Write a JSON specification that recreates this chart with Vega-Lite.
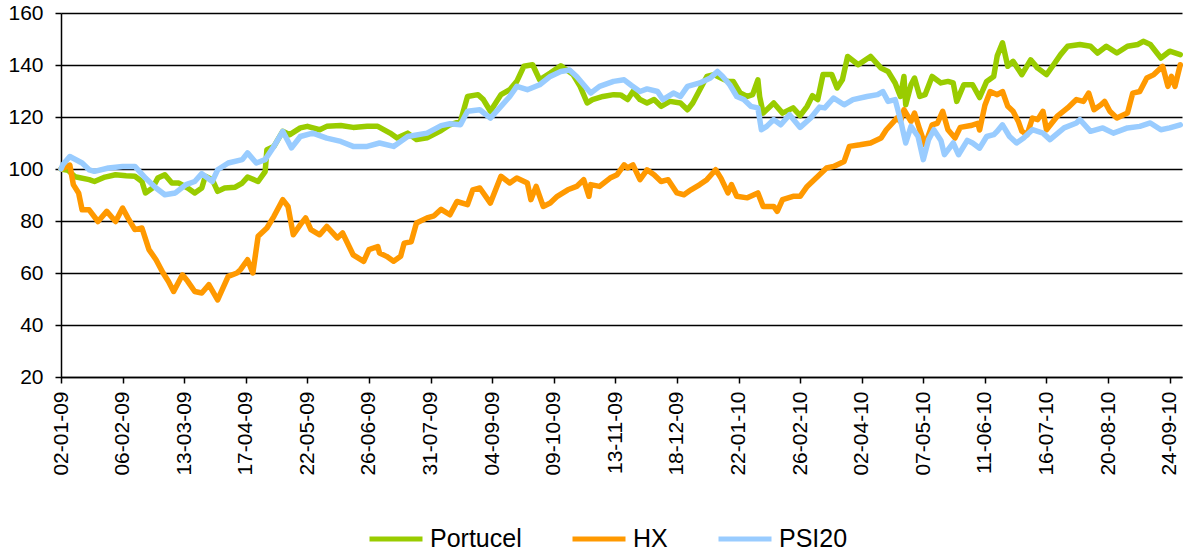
{
"$schema": "https://vega.github.io/schema/vega-lite/v6.json",
"width": 1121, "height": 364,
"autosize": {"type": "none"},
"padding": {"left": 61, "top": 13, "right": 1, "bottom": 178},
"background": "white",
"config": {"view": {"stroke": null}, "font": "Liberation Sans"},
"data": {"values": [
{"date":"2009-01-02","series":"Portucel","value":100},
{"date":"2009-01-06","series":"Portucel","value":99.5},
{"date":"2009-01-10","series":"Portucel","value":97},
{"date":"2009-01-18","series":"Portucel","value":95.9},
{"date":"2009-01-21","series":"Portucel","value":95.2},
{"date":"2009-01-27","series":"Portucel","value":96.9},
{"date":"2009-02-02","series":"Portucel","value":97.8},
{"date":"2009-02-08","series":"Portucel","value":97.4},
{"date":"2009-02-13","series":"Portucel","value":97.2},
{"date":"2009-02-17","series":"Portucel","value":95.2},
{"date":"2009-02-19","series":"Portucel","value":90.8},
{"date":"2009-02-23","series":"Portucel","value":92.7},
{"date":"2009-02-26","series":"Portucel","value":96.5},
{"date":"2009-03-02","series":"Portucel","value":97.8},
{"date":"2009-03-06","series":"Portucel","value":94.6},
{"date":"2009-03-10","series":"Portucel","value":94.6},
{"date":"2009-03-15","series":"Portucel","value":92.7},
{"date":"2009-03-19","series":"Portucel","value":90.8},
{"date":"2009-03-23","series":"Portucel","value":92.7},
{"date":"2009-03-25","series":"Portucel","value":97.2},
{"date":"2009-03-29","series":"Portucel","value":95.9},
{"date":"2009-04-01","series":"Portucel","value":91.4},
{"date":"2009-04-05","series":"Portucel","value":92.7},
{"date":"2009-04-11","series":"Portucel","value":93},
{"date":"2009-04-15","series":"Portucel","value":94.6},
{"date":"2009-04-18","series":"Portucel","value":96.9},
{"date":"2009-04-24","series":"Portucel","value":95.2},
{"date":"2009-04-28","series":"Portucel","value":99},
{"date":"2009-04-29","series":"Portucel","value":107.4},
{"date":"2009-05-03","series":"Portucel","value":108.7},
{"date":"2009-05-08","series":"Portucel","value":114.5},
{"date":"2009-05-12","series":"Portucel","value":113.2},
{"date":"2009-05-18","series":"Portucel","value":115.8},
{"date":"2009-05-22","series":"Portucel","value":116.4},
{"date":"2009-05-29","series":"Portucel","value":115.1},
{"date":"2009-06-02","series":"Portucel","value":116.4},
{"date":"2009-06-10","series":"Portucel","value":116.7},
{"date":"2009-06-17","series":"Portucel","value":116},
{"date":"2009-06-25","series":"Portucel","value":116.4},
{"date":"2009-07-01","series":"Portucel","value":116.4},
{"date":"2009-07-08","series":"Portucel","value":113.8},
{"date":"2009-07-12","series":"Portucel","value":111.9},
{"date":"2009-07-18","series":"Portucel","value":113.8},
{"date":"2009-07-23","series":"Portucel","value":111.3},
{"date":"2009-07-29","series":"Portucel","value":112},
{"date":"2009-08-06","series":"Portucel","value":114.8},
{"date":"2009-08-11","series":"Portucel","value":117},
{"date":"2009-08-17","series":"Portucel","value":118.3},
{"date":"2009-08-21","series":"Portucel","value":127.9},
{"date":"2009-08-27","series":"Portucel","value":128.6},
{"date":"2009-08-30","series":"Portucel","value":126.7},
{"date":"2009-09-03","series":"Portucel","value":122.2},
{"date":"2009-09-09","series":"Portucel","value":128.6},
{"date":"2009-09-14","series":"Portucel","value":130.5},
{"date":"2009-09-18","series":"Portucel","value":133.7},
{"date":"2009-09-22","series":"Portucel","value":139.5},
{"date":"2009-09-27","series":"Portucel","value":140.1},
{"date":"2009-10-01","series":"Portucel","value":134.3},
{"date":"2009-10-07","series":"Portucel","value":136.9},
{"date":"2009-10-13","series":"Portucel","value":139.7},
{"date":"2009-10-20","series":"Portucel","value":136.3},
{"date":"2009-10-24","series":"Portucel","value":131.8},
{"date":"2009-10-28","series":"Portucel","value":125.4},
{"date":"2009-10-31","series":"Portucel","value":126.7},
{"date":"2009-11-06","series":"Portucel","value":127.9},
{"date":"2009-11-12","series":"Portucel","value":128.6},
{"date":"2009-11-16","series":"Portucel","value":128.5},
{"date":"2009-11-20","series":"Portucel","value":126.7},
{"date":"2009-11-23","series":"Portucel","value":129.8},
{"date":"2009-11-27","series":"Portucel","value":126.7},
{"date":"2009-12-01","series":"Portucel","value":125.4},
{"date":"2009-12-05","series":"Portucel","value":126.7},
{"date":"2009-12-09","series":"Portucel","value":124.1},
{"date":"2009-12-14","series":"Portucel","value":126},
{"date":"2009-12-20","series":"Portucel","value":125.4},
{"date":"2009-12-24","series":"Portucel","value":122.8},
{"date":"2009-12-27","series":"Portucel","value":125.4},
{"date":"2009-12-31","series":"Portucel","value":130.5},
{"date":"2010-01-04","series":"Portucel","value":135.6},
{"date":"2010-01-08","series":"Portucel","value":136.3},
{"date":"2010-01-12","series":"Portucel","value":135},
{"date":"2010-01-16","series":"Portucel","value":133.7},
{"date":"2010-01-19","series":"Portucel","value":133.7},
{"date":"2010-01-23","series":"Portucel","value":129.2},
{"date":"2010-01-27","series":"Portucel","value":127.9},
{"date":"2010-01-30","series":"Portucel","value":128.6},
{"date":"2010-02-02","series":"Portucel","value":134.3},
{"date":"2010-02-03","series":"Portucel","value":127.9},
{"date":"2010-02-05","series":"Portucel","value":121.5},
{"date":"2010-02-11","series":"Portucel","value":125.4},
{"date":"2010-02-16","series":"Portucel","value":121.5},
{"date":"2010-02-22","series":"Portucel","value":123.5},
{"date":"2010-02-26","series":"Portucel","value":120.5},
{"date":"2010-03-02","series":"Portucel","value":124.1},
{"date":"2010-03-05","series":"Portucel","value":128.2},
{"date":"2010-03-08","series":"Portucel","value":126.7},
{"date":"2010-03-11","series":"Portucel","value":136.3},
{"date":"2010-03-16","series":"Portucel","value":136.3},
{"date":"2010-03-19","series":"Portucel","value":131.2},
{"date":"2010-03-22","series":"Portucel","value":134.3},
{"date":"2010-03-25","series":"Portucel","value":143.3},
{"date":"2010-03-31","series":"Portucel","value":140.1},
{"date":"2010-04-07","series":"Portucel","value":143.3},
{"date":"2010-04-13","series":"Portucel","value":138.8},
{"date":"2010-04-17","series":"Portucel","value":137.5},
{"date":"2010-04-21","series":"Portucel","value":133.1},
{"date":"2010-04-24","series":"Portucel","value":127.9},
{"date":"2010-04-26","series":"Portucel","value":135.6},
{"date":"2010-04-27","series":"Portucel","value":124.7},
{"date":"2010-04-30","series":"Portucel","value":132.4},
{"date":"2010-05-02","series":"Portucel","value":135},
{"date":"2010-05-05","series":"Portucel","value":127.9},
{"date":"2010-05-08","series":"Portucel","value":128.6},
{"date":"2010-05-12","series":"Portucel","value":135.6},
{"date":"2010-05-17","series":"Portucel","value":133.1},
{"date":"2010-05-21","series":"Portucel","value":133.7},
{"date":"2010-05-24","series":"Portucel","value":133.1},
{"date":"2010-05-26","series":"Portucel","value":126},
{"date":"2010-05-30","series":"Portucel","value":132.4},
{"date":"2010-06-04","series":"Portucel","value":132.4},
{"date":"2010-06-08","series":"Portucel","value":127.5},
{"date":"2010-06-12","series":"Portucel","value":133.7},
{"date":"2010-06-16","series":"Portucel","value":135.6},
{"date":"2010-06-18","series":"Portucel","value":143.5},
{"date":"2010-06-21","series":"Portucel","value":148.5},
{"date":"2010-06-24","series":"Portucel","value":139.5},
{"date":"2010-06-27","series":"Portucel","value":141.4},
{"date":"2010-07-02","series":"Portucel","value":136.3},
{"date":"2010-07-07","series":"Portucel","value":142},
{"date":"2010-07-11","series":"Portucel","value":138.8},
{"date":"2010-07-16","series":"Portucel","value":136.3},
{"date":"2010-07-20","series":"Portucel","value":140.1},
{"date":"2010-07-24","series":"Portucel","value":144},
{"date":"2010-07-28","series":"Portucel","value":147.2},
{"date":"2010-08-04","series":"Portucel","value":147.9},
{"date":"2010-08-10","series":"Portucel","value":147.2},
{"date":"2010-08-14","series":"Portucel","value":144.6},
{"date":"2010-08-19","series":"Portucel","value":147.2},
{"date":"2010-08-25","series":"Portucel","value":144.6},
{"date":"2010-08-31","series":"Portucel","value":147.2},
{"date":"2010-09-06","series":"Portucel","value":147.9},
{"date":"2010-09-09","series":"Portucel","value":149.1},
{"date":"2010-09-13","series":"Portucel","value":147.9},
{"date":"2010-09-19","series":"Portucel","value":142.7},
{"date":"2010-09-24","series":"Portucel","value":145.3},
{"date":"2010-09-30","series":"Portucel","value":144},
{"date":"2009-01-02","series":"HX","value":100},
{"date":"2009-01-07","series":"HX","value":101.5},
{"date":"2009-01-09","series":"HX","value":94},
{"date":"2009-01-12","series":"HX","value":90.8},
{"date":"2009-01-14","series":"HX","value":84.3},
{"date":"2009-01-18","series":"HX","value":84.3},
{"date":"2009-01-23","series":"HX","value":79.8},
{"date":"2009-01-28","series":"HX","value":83.7},
{"date":"2009-02-02","series":"HX","value":79.8},
{"date":"2009-02-06","series":"HX","value":85},
{"date":"2009-02-09","series":"HX","value":81.2},
{"date":"2009-02-13","series":"HX","value":76.7},
{"date":"2009-02-17","series":"HX","value":77.3},
{"date":"2009-02-21","series":"HX","value":69},
{"date":"2009-02-25","series":"HX","value":65.1},
{"date":"2009-03-01","series":"HX","value":60},
{"date":"2009-03-04","series":"HX","value":56.8},
{"date":"2009-03-07","series":"HX","value":52.9},
{"date":"2009-03-12","series":"HX","value":59.3},
{"date":"2009-03-15","series":"HX","value":56.8},
{"date":"2009-03-19","series":"HX","value":52.9},
{"date":"2009-03-23","series":"HX","value":52.3},
{"date":"2009-03-27","series":"HX","value":55.5},
{"date":"2009-04-01","series":"HX","value":49.7},
{"date":"2009-04-07","series":"HX","value":58.7},
{"date":"2009-04-12","series":"HX","value":60},
{"date":"2009-04-14","series":"HX","value":61.3},
{"date":"2009-04-18","series":"HX","value":65.1},
{"date":"2009-04-21","series":"HX","value":60},
{"date":"2009-04-24","series":"HX","value":74.1},
{"date":"2009-04-29","series":"HX","value":77.3},
{"date":"2009-05-03","series":"HX","value":81.8},
{"date":"2009-05-08","series":"HX","value":88.2},
{"date":"2009-05-11","series":"HX","value":85.6},
{"date":"2009-05-14","series":"HX","value":74.7},
{"date":"2009-05-18","series":"HX","value":78.6},
{"date":"2009-05-21","series":"HX","value":81.2},
{"date":"2009-05-24","series":"HX","value":76.7},
{"date":"2009-05-29","series":"HX","value":74.7},
{"date":"2009-06-02","series":"HX","value":77.9},
{"date":"2009-06-08","series":"HX","value":73.5},
{"date":"2009-06-11","series":"HX","value":75.4},
{"date":"2009-06-17","series":"HX","value":67},
{"date":"2009-06-23","series":"HX","value":64.5},
{"date":"2009-06-26","series":"HX","value":69},
{"date":"2009-07-01","series":"HX","value":70.2},
{"date":"2009-07-02","series":"HX","value":67.7},
{"date":"2009-07-06","series":"HX","value":66.4},
{"date":"2009-07-10","series":"HX","value":64.5},
{"date":"2009-07-14","series":"HX","value":66.4},
{"date":"2009-07-16","series":"HX","value":71.5},
{"date":"2009-07-20","series":"HX","value":72},
{"date":"2009-07-23","series":"HX","value":79.2},
{"date":"2009-07-29","series":"HX","value":81.2},
{"date":"2009-08-02","series":"HX","value":82},
{"date":"2009-08-06","series":"HX","value":84.5},
{"date":"2009-08-11","series":"HX","value":82.4},
{"date":"2009-08-15","series":"HX","value":87.5},
{"date":"2009-08-21","series":"HX","value":86.3},
{"date":"2009-08-24","series":"HX","value":92},
{"date":"2009-08-28","series":"HX","value":92.7},
{"date":"2009-09-03","series":"HX","value":86.9},
{"date":"2009-09-09","series":"HX","value":97.2},
{"date":"2009-09-14","series":"HX","value":94.6},
{"date":"2009-09-18","series":"HX","value":96.5},
{"date":"2009-09-24","series":"HX","value":94.6},
{"date":"2009-09-26","series":"HX","value":88.2},
{"date":"2009-09-29","series":"HX","value":93.3},
{"date":"2009-10-03","series":"HX","value":85.6},
{"date":"2009-10-07","series":"HX","value":86.9},
{"date":"2009-10-11","series":"HX","value":89.5},
{"date":"2009-10-17","series":"HX","value":92},
{"date":"2009-10-22","series":"HX","value":93.3},
{"date":"2009-10-26","series":"HX","value":95.9},
{"date":"2009-10-29","series":"HX","value":89.5},
{"date":"2009-10-30","series":"HX","value":94},
{"date":"2009-11-04","series":"HX","value":93.3},
{"date":"2009-11-10","series":"HX","value":96.5},
{"date":"2009-11-14","series":"HX","value":97.8},
{"date":"2009-11-18","series":"HX","value":101.6},
{"date":"2009-11-20","series":"HX","value":100.4},
{"date":"2009-11-23","series":"HX","value":101.6},
{"date":"2009-11-27","series":"HX","value":95.9},
{"date":"2009-12-01","series":"HX","value":99.7},
{"date":"2009-12-05","series":"HX","value":97.8},
{"date":"2009-12-09","series":"HX","value":95.2},
{"date":"2009-12-13","series":"HX","value":95.9},
{"date":"2009-12-18","series":"HX","value":90.8},
{"date":"2009-12-22","series":"HX","value":90.1},
{"date":"2009-12-26","series":"HX","value":92},
{"date":"2009-12-31","series":"HX","value":94},
{"date":"2010-01-04","series":"HX","value":95.9},
{"date":"2010-01-09","series":"HX","value":99.7},
{"date":"2010-01-12","series":"HX","value":96.5},
{"date":"2010-01-16","series":"HX","value":90.8},
{"date":"2010-01-18","series":"HX","value":94},
{"date":"2010-01-21","series":"HX","value":89.5},
{"date":"2010-01-27","series":"HX","value":88.9},
{"date":"2010-02-02","series":"HX","value":90.8},
{"date":"2010-02-05","series":"HX","value":85.6},
{"date":"2010-02-11","series":"HX","value":85.6},
{"date":"2010-02-13","series":"HX","value":83.7},
{"date":"2010-02-16","series":"HX","value":88.2},
{"date":"2010-02-22","series":"HX","value":89.5},
{"date":"2010-02-26","series":"HX","value":89.5},
{"date":"2010-03-02","series":"HX","value":93.3},
{"date":"2010-03-09","series":"HX","value":97.8},
{"date":"2010-03-13","series":"HX","value":100.4},
{"date":"2010-03-17","series":"HX","value":101},
{"date":"2010-03-23","series":"HX","value":102.9},
{"date":"2010-03-26","series":"HX","value":108.7},
{"date":"2010-04-01","series":"HX","value":109.3},
{"date":"2010-04-07","series":"HX","value":110},
{"date":"2010-04-13","series":"HX","value":111.9},
{"date":"2010-04-16","series":"HX","value":115.1},
{"date":"2010-04-22","series":"HX","value":119.6},
{"date":"2010-04-24","series":"HX","value":118.3},
{"date":"2010-04-26","series":"HX","value":122.8},
{"date":"2010-04-30","series":"HX","value":118.3},
{"date":"2010-05-02","series":"HX","value":121.5},
{"date":"2010-05-05","series":"HX","value":115.1},
{"date":"2010-05-08","series":"HX","value":109.3},
{"date":"2010-05-12","series":"HX","value":117},
{"date":"2010-05-15","series":"HX","value":117.6},
{"date":"2010-05-18","series":"HX","value":122.2},
{"date":"2010-05-21","series":"HX","value":115.1},
{"date":"2010-05-25","series":"HX","value":111.9},
{"date":"2010-05-28","series":"HX","value":116},
{"date":"2010-06-03","series":"HX","value":116.7},
{"date":"2010-06-07","series":"HX","value":117.6},
{"date":"2010-06-08","series":"HX","value":115},
{"date":"2010-06-11","series":"HX","value":124.5},
{"date":"2010-06-14","series":"HX","value":129.8},
{"date":"2010-06-18","series":"HX","value":128.6},
{"date":"2010-06-21","series":"HX","value":129.8},
{"date":"2010-06-24","series":"HX","value":124.1},
{"date":"2010-06-27","series":"HX","value":122.2},
{"date":"2010-06-30","series":"HX","value":118.3},
{"date":"2010-07-02","series":"HX","value":114.5},
{"date":"2010-07-05","series":"HX","value":113.2},
{"date":"2010-07-08","series":"HX","value":119.6},
{"date":"2010-07-11","series":"HX","value":119},
{"date":"2010-07-14","series":"HX","value":122.2},
{"date":"2010-07-16","series":"HX","value":115.1},
{"date":"2010-07-22","series":"HX","value":120.2},
{"date":"2010-07-28","series":"HX","value":123.5},
{"date":"2010-08-02","series":"HX","value":126.7},
{"date":"2010-08-06","series":"HX","value":126},
{"date":"2010-08-09","series":"HX","value":129.2},
{"date":"2010-08-12","series":"HX","value":122.8},
{"date":"2010-08-16","series":"HX","value":124.7},
{"date":"2010-08-18","series":"HX","value":126},
{"date":"2010-08-21","series":"HX","value":122.2},
{"date":"2010-08-25","series":"HX","value":119.6},
{"date":"2010-08-31","series":"HX","value":121.5},
{"date":"2010-09-03","series":"HX","value":129.2},
{"date":"2010-09-07","series":"HX","value":129.8},
{"date":"2010-09-11","series":"HX","value":135},
{"date":"2010-09-15","series":"HX","value":136.3},
{"date":"2010-09-20","series":"HX","value":139.5},
{"date":"2010-09-23","series":"HX","value":131.8},
{"date":"2010-09-25","series":"HX","value":135.6},
{"date":"2010-09-27","series":"HX","value":131.8},
{"date":"2010-09-30","series":"HX","value":140.1},
{"date":"2009-01-02","series":"PSI20","value":100},
{"date":"2009-01-03","series":"PSI20","value":101.6},
{"date":"2009-01-07","series":"PSI20","value":104.8},
{"date":"2009-01-14","series":"PSI20","value":102.3},
{"date":"2009-01-18","series":"PSI20","value":99.7},
{"date":"2009-01-21","series":"PSI20","value":99.1},
{"date":"2009-01-29","series":"PSI20","value":100.4},
{"date":"2009-02-06","series":"PSI20","value":101},
{"date":"2009-02-13","series":"PSI20","value":101},
{"date":"2009-02-19","series":"PSI20","value":96.5},
{"date":"2009-02-25","series":"PSI20","value":92.7},
{"date":"2009-03-02","series":"PSI20","value":90.1},
{"date":"2009-03-08","series":"PSI20","value":90.8},
{"date":"2009-03-14","series":"PSI20","value":94},
{"date":"2009-03-19","series":"PSI20","value":95.2},
{"date":"2009-03-23","series":"PSI20","value":98.2},
{"date":"2009-03-29","series":"PSI20","value":95.2},
{"date":"2009-04-01","series":"PSI20","value":99.7},
{"date":"2009-04-07","series":"PSI20","value":102.3},
{"date":"2009-04-15","series":"PSI20","value":103.6},
{"date":"2009-04-18","series":"PSI20","value":106.2},
{"date":"2009-04-23","series":"PSI20","value":102.3},
{"date":"2009-04-28","series":"PSI20","value":103.6},
{"date":"2009-05-03","series":"PSI20","value":108.7},
{"date":"2009-05-08","series":"PSI20","value":114.5},
{"date":"2009-05-13","series":"PSI20","value":108.1},
{"date":"2009-05-18","series":"PSI20","value":112.5},
{"date":"2009-05-25","series":"PSI20","value":113.8},
{"date":"2009-06-02","series":"PSI20","value":111.9},
{"date":"2009-06-10","series":"PSI20","value":110.6},
{"date":"2009-06-17","series":"PSI20","value":108.7},
{"date":"2009-06-25","series":"PSI20","value":108.7},
{"date":"2009-07-02","series":"PSI20","value":110},
{"date":"2009-07-10","series":"PSI20","value":108.7},
{"date":"2009-07-18","series":"PSI20","value":112.5},
{"date":"2009-07-29","series":"PSI20","value":113.8},
{"date":"2009-08-06","series":"PSI20","value":116.7},
{"date":"2009-08-11","series":"PSI20","value":117.4},
{"date":"2009-08-17","series":"PSI20","value":117},
{"date":"2009-08-21","series":"PSI20","value":122.2},
{"date":"2009-08-28","series":"PSI20","value":122.8},
{"date":"2009-09-03","series":"PSI20","value":119.6},
{"date":"2009-09-09","series":"PSI20","value":124.1},
{"date":"2009-09-14","series":"PSI20","value":127.9},
{"date":"2009-09-18","series":"PSI20","value":131.8},
{"date":"2009-09-24","series":"PSI20","value":130.5},
{"date":"2009-10-01","series":"PSI20","value":132.4},
{"date":"2009-10-07","series":"PSI20","value":135.6},
{"date":"2009-10-13","series":"PSI20","value":137.5},
{"date":"2009-10-18","series":"PSI20","value":138.1},
{"date":"2009-10-22","series":"PSI20","value":135.6},
{"date":"2009-10-26","series":"PSI20","value":132.4},
{"date":"2009-10-30","series":"PSI20","value":129.2},
{"date":"2009-11-04","series":"PSI20","value":131.8},
{"date":"2009-11-12","series":"PSI20","value":133.7},
{"date":"2009-11-18","series":"PSI20","value":134.3},
{"date":"2009-11-22","series":"PSI20","value":132.2},
{"date":"2009-11-27","series":"PSI20","value":129.8},
{"date":"2009-12-01","series":"PSI20","value":130.8},
{"date":"2009-12-07","series":"PSI20","value":129.8},
{"date":"2009-12-10","series":"PSI20","value":126.7},
{"date":"2009-12-16","series":"PSI20","value":129.2},
{"date":"2009-12-20","series":"PSI20","value":127.9},
{"date":"2009-12-24","series":"PSI20","value":131.8},
{"date":"2009-12-31","series":"PSI20","value":133.1},
{"date":"2010-01-06","series":"PSI20","value":135},
{"date":"2010-01-10","series":"PSI20","value":137.5},
{"date":"2010-01-13","series":"PSI20","value":135.6},
{"date":"2010-01-17","series":"PSI20","value":132.4},
{"date":"2010-01-21","series":"PSI20","value":127.9},
{"date":"2010-01-25","series":"PSI20","value":126.7},
{"date":"2010-01-29","series":"PSI20","value":124.1},
{"date":"2010-02-02","series":"PSI20","value":123.5},
{"date":"2010-02-04","series":"PSI20","value":115.1},
{"date":"2010-02-07","series":"PSI20","value":116.4},
{"date":"2010-02-11","series":"PSI20","value":119},
{"date":"2010-02-15","series":"PSI20","value":117},
{"date":"2010-02-20","series":"PSI20","value":120.9},
{"date":"2010-02-26","series":"PSI20","value":116},
{"date":"2010-03-04","series":"PSI20","value":119.6},
{"date":"2010-03-09","series":"PSI20","value":123.8},
{"date":"2010-03-12","series":"PSI20","value":123.5},
{"date":"2010-03-17","series":"PSI20","value":127.3},
{"date":"2010-03-23","series":"PSI20","value":124.7},
{"date":"2010-03-28","series":"PSI20","value":126.7},
{"date":"2010-04-05","series":"PSI20","value":127.9},
{"date":"2010-04-11","series":"PSI20","value":128.6},
{"date":"2010-04-14","series":"PSI20","value":129.8},
{"date":"2010-04-17","series":"PSI20","value":126},
{"date":"2010-04-21","series":"PSI20","value":126.7},
{"date":"2010-04-24","series":"PSI20","value":119},
{"date":"2010-04-27","series":"PSI20","value":110},
{"date":"2010-04-30","series":"PSI20","value":116.4},
{"date":"2010-05-04","series":"PSI20","value":112.5},
{"date":"2010-05-07","series":"PSI20","value":103.6},
{"date":"2010-05-10","series":"PSI20","value":111.3},
{"date":"2010-05-13","series":"PSI20","value":115.1},
{"date":"2010-05-17","series":"PSI20","value":111},
{"date":"2010-05-19","series":"PSI20","value":105.5},
{"date":"2010-05-24","series":"PSI20","value":110},
{"date":"2010-05-27","series":"PSI20","value":105.5},
{"date":"2010-06-01","series":"PSI20","value":111},
{"date":"2010-06-04","series":"PSI20","value":110},
{"date":"2010-06-08","series":"PSI20","value":108},
{"date":"2010-06-12","series":"PSI20","value":112.5},
{"date":"2010-06-16","series":"PSI20","value":113.2},
{"date":"2010-06-18","series":"PSI20","value":114.5},
{"date":"2010-06-21","series":"PSI20","value":117},
{"date":"2010-06-25","series":"PSI20","value":112.5},
{"date":"2010-06-29","series":"PSI20","value":110},
{"date":"2010-07-03","series":"PSI20","value":111.9},
{"date":"2010-07-08","series":"PSI20","value":115.1},
{"date":"2010-07-14","series":"PSI20","value":113.8},
{"date":"2010-07-18","series":"PSI20","value":111.3},
{"date":"2010-07-26","series":"PSI20","value":115.8},
{"date":"2010-08-02","series":"PSI20","value":117.7},
{"date":"2010-08-04","series":"PSI20","value":119},
{"date":"2010-08-10","series":"PSI20","value":114.5},
{"date":"2010-08-17","series":"PSI20","value":115.8},
{"date":"2010-08-23","series":"PSI20","value":113.8},
{"date":"2010-08-31","series":"PSI20","value":115.8},
{"date":"2010-09-07","series":"PSI20","value":116.4},
{"date":"2010-09-13","series":"PSI20","value":117.7},
{"date":"2010-09-19","series":"PSI20","value":115.1},
{"date":"2010-09-24","series":"PSI20","value":115.8},
{"date":"2010-09-30","series":"PSI20","value":117}
]},
"mark": {"type": "line", "strokeWidth": 5.5, "strokeCap": "round", "strokeJoin": "round"},
"encoding": {
"x": {"field": "date", "type": "temporal",
 "scale": {"type": "utc", "domain": [{"year": 2009, "month": 1, "date": 2, "utc": true}, {"year": 2010, "month": 10, "date": 1, "utc": true}]},
 "axis": {"title": null, "labelExpr": "utcFormat(datum.value, '%d-%m-%y')", "grid": false,
  "values": [
   {"year": 2009, "month": 1, "date": 2, "utc": true},
   {"year": 2009, "month": 2, "date": 6, "utc": true},
   {"year": 2009, "month": 3, "date": 13, "utc": true},
   {"year": 2009, "month": 4, "date": 17, "utc": true},
   {"year": 2009, "month": 5, "date": 22, "utc": true},
   {"year": 2009, "month": 6, "date": 26, "utc": true},
   {"year": 2009, "month": 7, "date": 31, "utc": true},
   {"year": 2009, "month": 9, "date": 4, "utc": true},
   {"year": 2009, "month": 10, "date": 9, "utc": true},
   {"year": 2009, "month": 11, "date": 13, "utc": true},
   {"year": 2009, "month": 12, "date": 18, "utc": true},
   {"year": 2010, "month": 1, "date": 22, "utc": true},
   {"year": 2010, "month": 2, "date": 26, "utc": true},
   {"year": 2010, "month": 4, "date": 2, "utc": true},
   {"year": 2010, "month": 5, "date": 7, "utc": true},
   {"year": 2010, "month": 6, "date": 11, "utc": true},
   {"year": 2010, "month": 7, "date": 16, "utc": true},
   {"year": 2010, "month": 8, "date": 20, "utc": true},
   {"year": 2010, "month": 9, "date": 24, "utc": true}],
  "labelAngle": -90, "labelFontSize": 21, "labelFont": "Liberation Sans", "labelColor": "black",
  "labelPadding": 8, "labelOverlap": false, "labelFlush": false,
  "domainColor": "black", "domainWidth": 1.5, "tickColor": "black", "tickWidth": 1.5, "tickSize": 6}},
"y": {"field": "value", "type": "quantitative",
 "scale": {"domain": [20, 160], "nice": false, "zero": false},
 "axis": {"title": null, "values": [20, 40, 60, 80, 100, 120, 140, 160],
  "grid": true, "gridColor": "black", "gridWidth": 1.3, "gridOpacity": 1,
  "labelFontSize": 21, "labelFont": "Liberation Sans", "labelColor": "black", "labelPadding": 12,
  "domainColor": "black", "domainWidth": 1.5, "tickColor": "black", "tickWidth": 1.5, "tickSize": 6}},
"color": {"field": "series", "type": "nominal",
 "scale": {"domain": ["Portucel", "HX", "PSI20"], "range": ["#99CC00", "#FF9900", "#99CCFF"]},
 "legend": {"title": null, "orient": "none", "legendX": 306, "legendY": 497, "direction": "horizontal",
  "symbolType": "stroke", "symbolSize": 2809, "symbolStrokeWidth": 5, "labelFontSize": 25,
  "labelFont": "Liberation Sans", "labelColor": "black", "labelOffset": 5, "columnPadding": 40, "padding": 0}}
}
}
